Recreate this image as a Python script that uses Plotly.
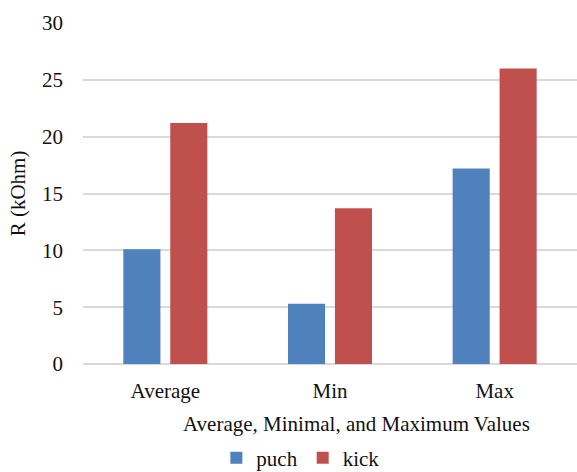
import plotly.graph_objects as go

categories = ["Average", "Min", "Max"]
puch = [10.1, 5.3, 17.2]
kick = [21.2, 13.7, 26.0]

y_ticks = [0, 5, 10, 15, 20, 25, 30]

FONT = "Liberation Serif"
TEXT = "#111111"
font = dict(family=FONT, size=21, color=TEXT)

fig = go.Figure()
fig.add_trace(go.Bar(name="puch", x=categories, y=puch,
                     marker=dict(color="#4F81BD", line=dict(width=0))))
fig.add_trace(go.Bar(name="kick", x=categories, y=kick,
                     marker=dict(color="#C0504D", line=dict(width=0))))

fig.update_layout(
    width=577, height=472,
    margin=dict(l=83, r=0, t=23, b=108, autoexpand=False),
    paper_bgcolor="white", plot_bgcolor="white",
    barmode="group", bargap=0.43, bargroupgap=0.21,
    font=font,
    showlegend=True,
    legend=dict(orientation="h", x=0.44, xanchor="center", y=-0.276, yanchor="middle",
                font=font, itemwidth=30, traceorder="normal", tracegroupgap=0),
    xaxis=dict(
        showgrid=False, showline=False, ticks="", ticklabelstandoff=12,
        tickfont=font,
    ),
    yaxis=dict(
        range=[0, 30], tickvals=y_ticks, showgrid=True, gridcolor="#D9D9D9",
        gridwidth=1.5, zeroline=True, zerolinecolor="#D9D9D9", zerolinewidth=1.5,
        showline=False, ticks="", ticklabelstandoff=19,
        tickfont=font,
        title=dict(text="R (kOhm)", standoff=10, font=font),
    ),
    annotations=[dict(
        text="Average, Minimal, and Maximum Values", xref="paper", yref="paper",
        x=0.553, y=-0.176, xanchor="center", yanchor="middle", showarrow=False,
        font=font,
    )],
)

fig.write_html("out.html")
